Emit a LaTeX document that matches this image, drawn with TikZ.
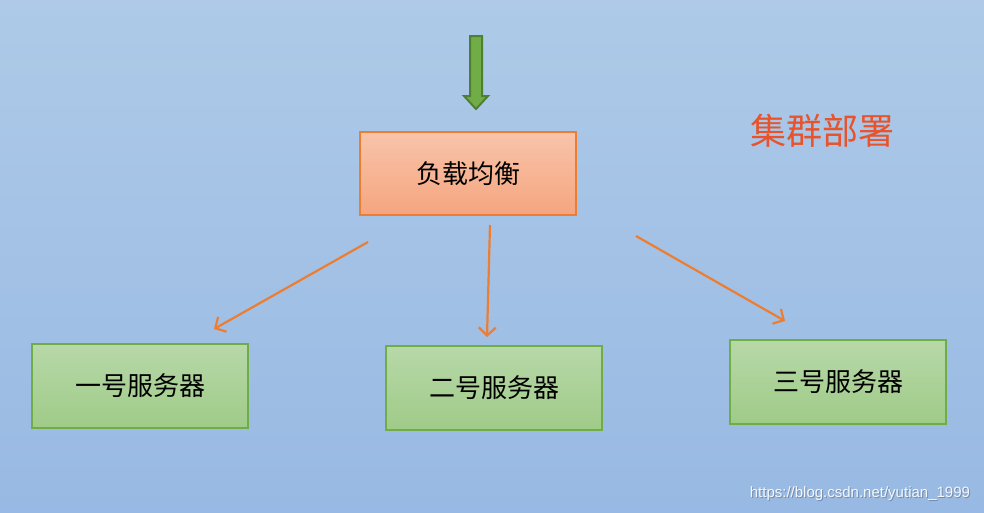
\documentclass[tikz,border=0pt]{standalone}
\usepackage{fontspec}
\setmainfont{Liberation Sans}
\newfontfamily\cjk{Noto Sans CJK SC}
\usetikzlibrary{arrows.meta}
\definecolor{bgtop}{HTML}{AECAE8}
\definecolor{bgbot}{HTML}{98B9E3}
\definecolor{orline}{HTML}{ED7D31}
\definecolor{ortop}{HTML}{F8C4AA}
\definecolor{orbot}{HTML}{F5A57F}
\definecolor{grline}{HTML}{70AD47}
\definecolor{grtop}{HTML}{B7D8A8}
\definecolor{grbot}{HTML}{9FCB88}
\definecolor{grdark}{HTML}{507E32}
\definecolor{titlered}{HTML}{E8532B}
\tikzset{
  lbbox/.style={draw=orline, line width=2pt, top color=ortop, bottom color=orbot,
    minimum width=216pt, minimum height=83pt, inner sep=0pt,
    font=\cjk\fontsize{26}{26}\selectfont},
  srvbox/.style={draw=grline, line width=2pt, top color=grtop, bottom color=grbot,
    minimum width=216pt, minimum height=84pt, inner sep=0pt,
    font=\cjk\fontsize{26}{26}\selectfont},
  conn/.style={draw=orline, line width=2.2pt, -{Straight Barb[length=8pt,width=17pt]}}
}
\begin{document}
\begin{tikzpicture}[x=1pt,y=-1pt]
\shade[top color=bgtop, bottom color=bgbot] (0,0) rectangle (984,512);
\useasboundingbox (0,0) rectangle (984,512);
% green arrow
\filldraw[fill=grline, draw=grdark, line width=2pt]
  (470,36) -- (482,36) -- (482,96) -- (488,96) -- (476,109) -- (464,96) -- (470,96) -- cycle;
\node[lbbox] (lb) at (468,173.5) {负载均衡};
\node[srvbox] (s1) at (140,386) {一号服务器};
\node[srvbox] (s2) at (494,388) {二号服务器};
\node[srvbox] (s3) at (838,382) {三号服务器};
\node[font=\cjk\fontsize{36}{36}\selectfont, text=titlered] (title) at (822,131) {集群部署};
\coordinate (a1s) at (368,242); \coordinate (a1e) at (214,329);
\coordinate (a2s) at (490,225); \coordinate (a2e) at (487,337);
\coordinate (a3s) at (636,236); \coordinate (a3e) at (785,321);
\draw[conn] (a1s) -- (a1e);
\draw[conn] (a2s) -- (a2e);
\draw[conn] (a3s) -- (a3e);
\node[font=\fontsize{15}{15}\selectfont, text=black!25!bgbot, anchor=east] at (974.5,494.5) {https://blog.csdn.net/yutian\_1999};
\node[font=\fontsize{15}{15}\selectfont, text=white!88!bgbot, anchor=east] (wm) at (973.5,493.5) {https://blog.csdn.net/yutian\_1999};
\end{tikzpicture}
\end{document}
